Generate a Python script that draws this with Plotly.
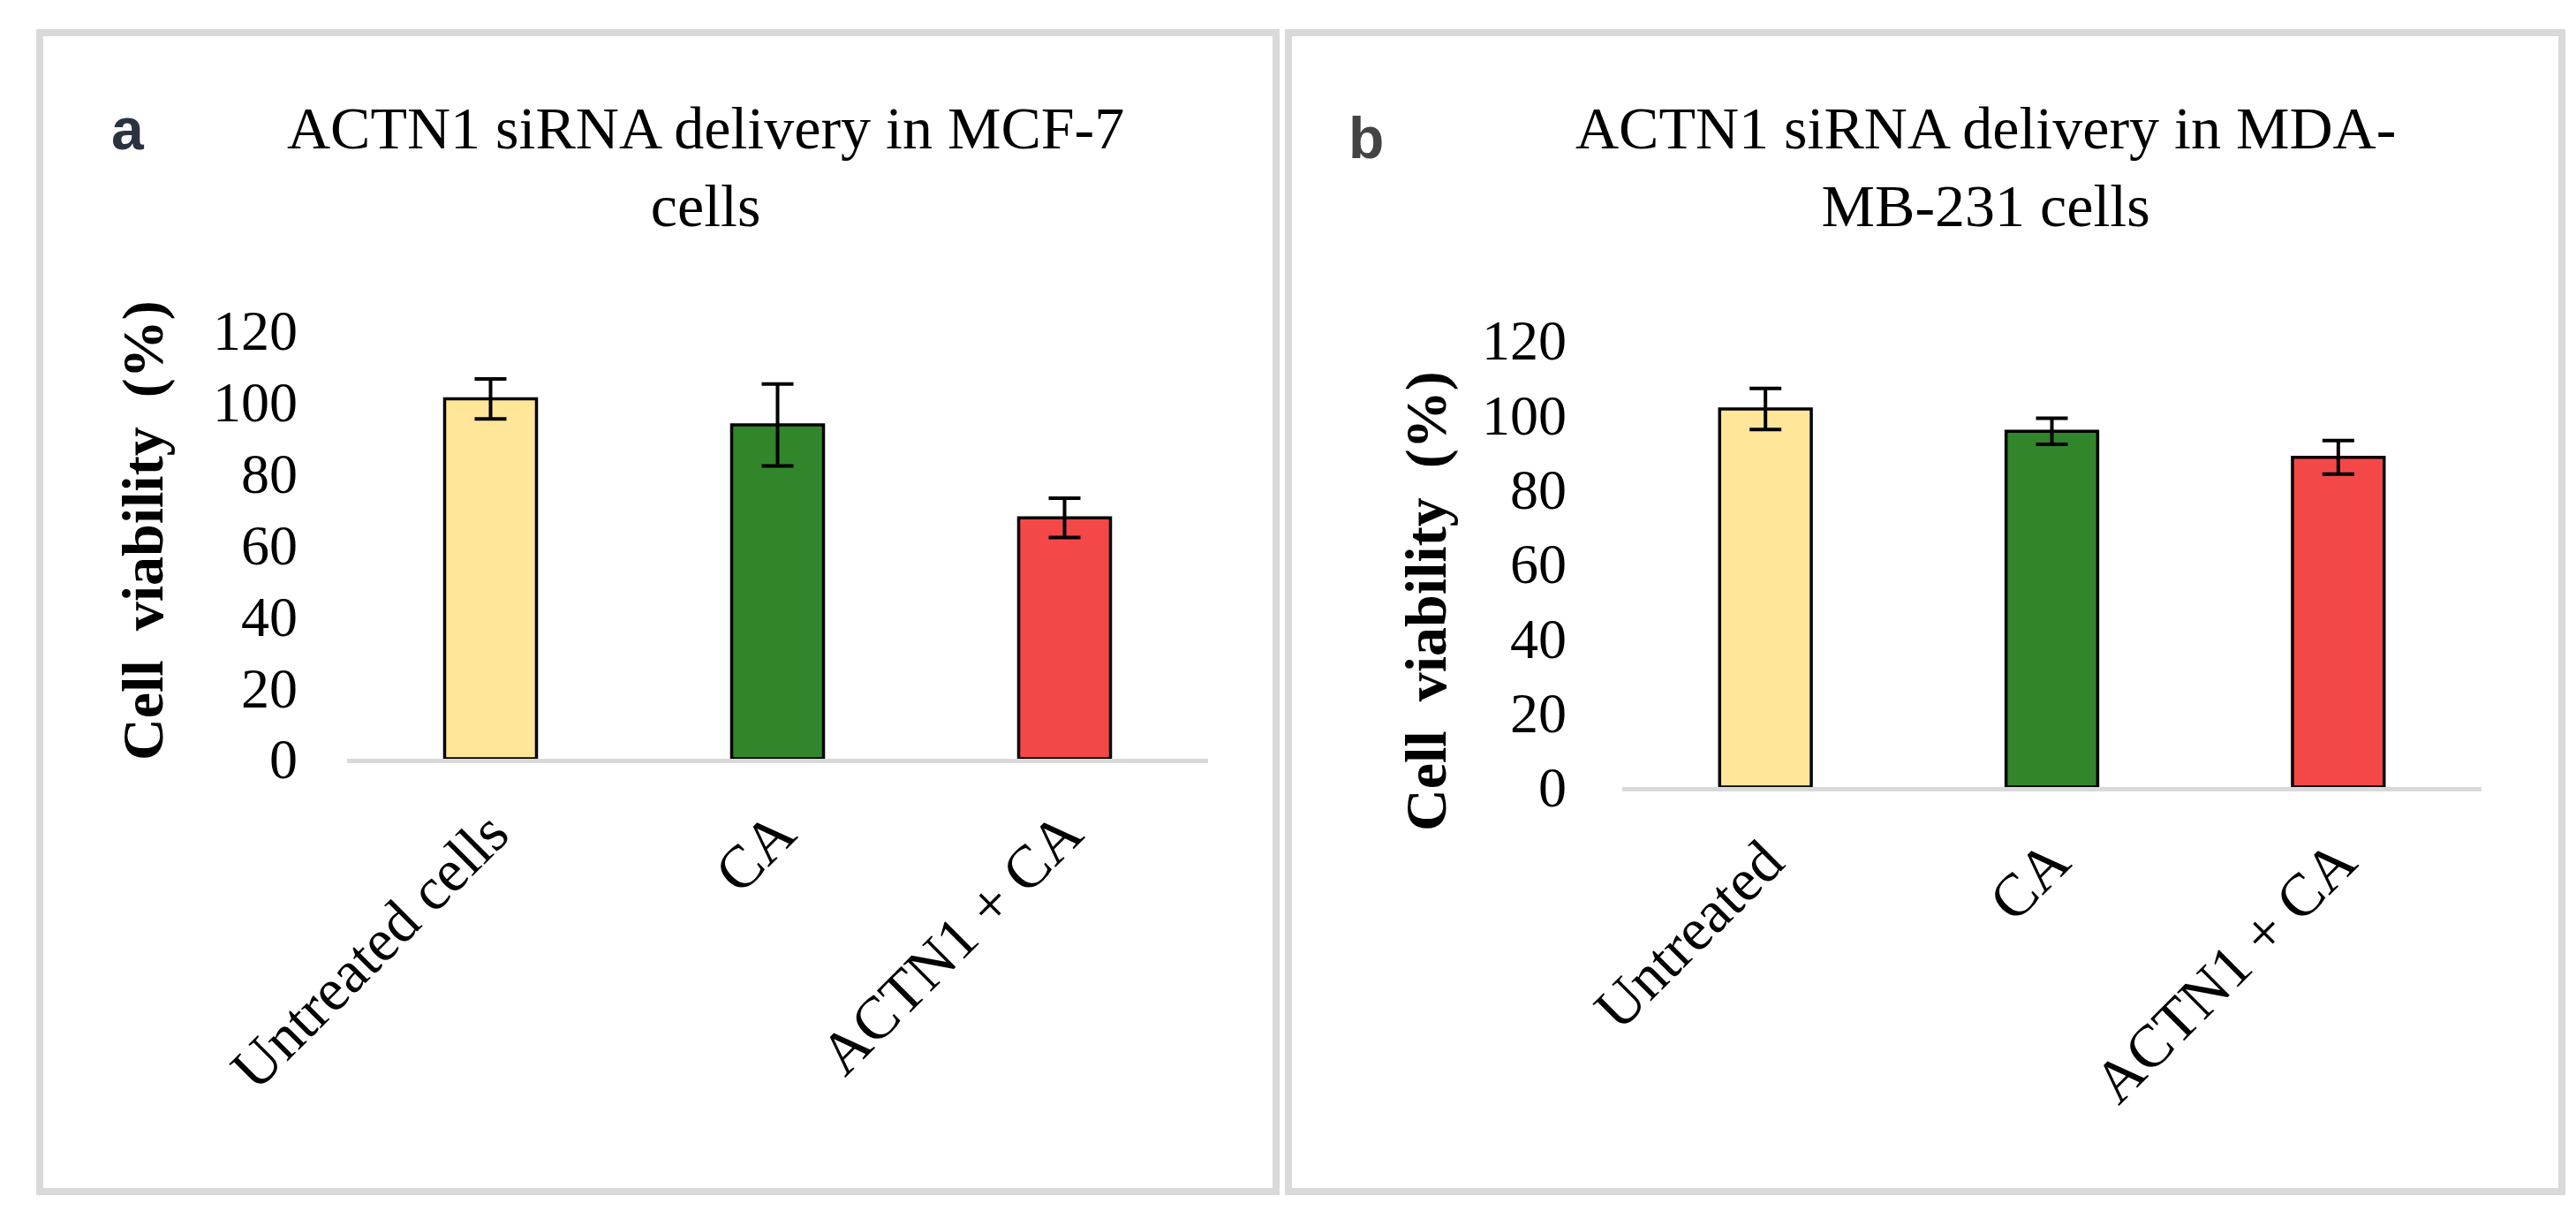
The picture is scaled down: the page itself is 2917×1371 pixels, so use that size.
import plotly.graph_objects as go

# data
left_groups = ["Untreated cells", "CA", "ACTN1 + CA"]
left_viability = [100.8, 93.5, 67.5]
left_error = [5.6, 11.5, 5.5]

right_groups = ["Untreated", "CA", "ACTN1 + CA"]
right_viability = [101.5, 95.5, 88.5]
right_error = [5.5, 3.5, 4.5]

bar_colors = ["#FFE699", "#31862B", "#F44848"]

W, H = 2917, 1371
serif = "Liberation Serif, Times New Roman, serif"

fig = go.Figure()

# panel a
fig.add_trace(go.Bar(
    x=left_groups, y=left_viability,
    marker=dict(color=bar_colors, line=dict(color="black", width=3.5)),
    error_y=dict(type="data", array=left_error, color="black", thickness=4, width=18),
    xaxis="x", yaxis="y", showlegend=False,
))
# panel b
fig.add_trace(go.Bar(
    x=right_groups, y=right_viability,
    marker=dict(color=bar_colors, line=dict(color="black", width=3.5)),
    error_y=dict(type="data", array=right_error, color="black", thickness=4, width=18),
    xaxis="x2", yaxis="y2", showlegend=False,
))

xstyle = dict(
    showline=True, linecolor="#D9D9D9", linewidth=5, automargin=False,
    showgrid=False, zeroline=False, ticks="",
    tickangle=-45, tickfont=dict(family=serif, size=68, color="black"),
)
ystyle = dict(
    range=[0, 120], dtick=20, showline=False, showgrid=False, zeroline=False,
    automargin=False, ticks="", tickfont=dict(family=serif, size=64, color="black"),
)

fig.update_layout(
    width=W, height=H,
    margin=dict(l=0, r=0, t=0, b=0, autoexpand=False),
    paper_bgcolor="white", plot_bgcolor="white",
    bargap=0.68,
    xaxis=dict(domain=[385 / W, 1360 / W], anchor="y", ticklabelstandoff=12, **xstyle),
    yaxis=dict(domain=[1 - 851 / H, 1 - 366 / H], anchor="x", ticklabelstandoff=55, **ystyle),
    xaxis2=dict(domain=[1829 / W, 2802 / W], anchor="y2", ticklabelstandoff=12, **xstyle),
    yaxis2=dict(domain=[1 - 883 / H, 1 - 377 / H], anchor="x2", ticklabelstandoff=62, **ystyle),
)

# panel frames
for x0, x1 in [(37, 1437), (1451, 2893)]:
    fig.add_shape(type="rect", xref="paper", yref="paper",
                  x0=x0 / W, x1=x1 / W, y0=1 - 1341 / H, y1=1 - 29 / H,
                  line=dict(color="#D9D9D9", width=8), fillcolor="rgba(0,0,0,0)")

# text helper, always centred on its point
def label(xp, yp, text, size, family=serif, color="black", angle=0):
    fig.add_annotation(x=xp / W, y=1 - yp / H, xref="paper", yref="paper",
                       xanchor="center", yanchor="middle", align="center",
                       text=text, textangle=angle, showarrow=False,
                       font=dict(family=family, size=size, color=color))

# titles
label(791, 181, "ACTN1 siRNA delivery in MCF-7<br>cells", 68)
label(2240, 181, "ACTN1 siRNA delivery in MDA-<br>MB-231 cells", 68)

# panel letters
label(137, 138, "<b>a</b>", 66, "Liberation Sans, Arial", "#2b3340")
label(1539, 148, "<b>b</b>", 66, "Liberation Sans, Arial", "#444444")

# y axis titles
label(154, 593, "<b>Cell  viability  (%)</b>", 66, angle=-90)
label(1607, 672, "<b>Cell  viability  (%)</b>", 66, angle=-90)

fig.write_html("out.html")
